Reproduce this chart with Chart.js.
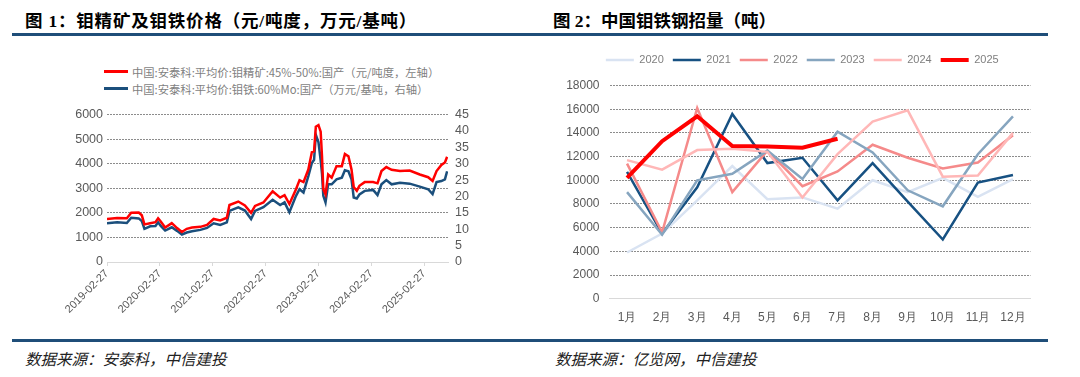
<!DOCTYPE html>
<html lang="zh">
<head>
<meta charset="UTF-8">
<title>钼精矿及钼铁价格 / 中国钼铁钢招量</title>
<script src="https://cdn.jsdelivr.net/npm/chart.js"></script>
<style>
    * { margin: 0; padding: 0; box-sizing: border-box; }
    body { width: 1080px; height: 377px; background: #fff; position: relative; overflow: hidden;
           font-family: "Liberation Sans", "Noto Sans CJK SC", sans-serif; }
    .title { position: absolute; top: 7px; font-size: 17.5px; font-weight: 700; color: #000;
             font-family: "Liberation Serif", "Noto Sans CJK SC", serif; white-space: nowrap; }
    .rule { position: absolute; left: 12px; width: 1036px; height: 3px; background: #1f4e79; }
    .source { position: absolute; top: 347px; font-size: 15.5px; font-style: italic; color: #222;
              font-family: "Noto Sans CJK SC", sans-serif; white-space: nowrap; }
    .legend1 { position: absolute; left: 104px; top: 63px; font-size: 11.3px; color: #7f7f7f;
               font-family: "Noto Sans CJK SC", sans-serif; }
    .legend1 div { display: flex; align-items: center; height: 17px; white-space: nowrap; }
    .legend1 span.sw { display: inline-block; width: 24px; height: 3px; margin-right: 4px; }
    .box { position: absolute; }
</style>
</head>
<body>
    <div class="title" style="left:25px; letter-spacing:0.8px">图 1：钼精矿及钼铁价格（元/吨度，万元/基吨）</div>
    <div class="title" style="left:553px">图 2：中国钼铁钢招量（吨）</div>
    <div class="rule" style="top:33px"></div>

    <div class="legend1">
        <div><span class="sw" style="background:#ff0000"></span>中国:安泰科:平均价:钼精矿:45%-50%:国产（元/吨度，左轴）</div>
        <div><span class="sw" style="background:#1b4f7c"></span>中国:安泰科:平均价:钼铁:60%Mo:国产（万元/基吨，右轴）</div>
    </div>

    <div class="box" style="left:12px; top:100px; width:528px; height:235px;">
        <canvas id="priceChart"></canvas>
    </div>
    <div class="box" style="left:540px; top:40px; width:508px; height:295px;">
        <canvas id="tenderChart"></canvas>
    </div>

    <div class="rule" style="top:339px"></div>
    <div class="source" style="left:25px">数据来源：安泰科，中信建投</div>
    <div class="source" style="left:555px">数据来源：亿览网，中信建投</div>

<script>
// ---- 图1 数据（x = 自 2019-02-27 起的月数）----
const priceMonths = [0, 2.3, 4.5, 5.5, 7.2, 7.9, 8.5, 9.8, 11.0, 11.6, 12.2, 13.2, 14.7, 15.9, 17.0, 18.1, 19.3, 21.2, 22.7, 24.2,
    25.7, 27.2, 27.8, 29.8, 31.3, 32.7, 33.6, 35.5, 37.6, 39.3, 40.3, 41.4, 42.9, 43.7, 44.6, 45.7, 46.5, 47.0, 47.4, 48.0,
    48.5, 48.8, 49.1, 49.6, 50.2, 51.0, 52.1, 53.3, 54.0, 54.8, 55.5, 56.0, 56.7, 57.3, 58.5, 60.4, 61.4, 62.3, 63.4, 64.6,
    66.5, 68.7, 71.0, 72.9, 73.9, 74.8, 75.9, 76.7, 77.2];
const orePrice = [1750, 1790, 1780, 2000, 2010, 1900, 1530, 1580, 1620, 1780, 1650, 1400, 1580, 1380, 1220, 1350, 1400, 1430, 1510, 1750,
    1690, 1800, 2320, 2460, 2300, 2000, 2280, 2420, 2880, 2620, 2720, 2360, 2960, 3330, 3250, 3760, 4470, 4500, 5500, 5570,
    5300, 4300, 2960, 2750, 3560, 3430, 3900, 3900, 4390, 4300, 3760, 3050, 2900, 3100, 3250, 3250, 3200, 3700, 3860, 3750,
    3700, 3720, 3560, 3450, 3300, 3700, 3950, 4050, 4280];
const feAlloyPrice = [11.8, 12.1, 11.9, 13.5, 13.3, 12.5, 10.1, 10.9, 11.0, 12.1, 11.0, 9.6, 10.6, 9.5, 8.4, 9.0, 9.4, 9.8, 10.4, 11.8,
    11.3, 12.1, 15.6, 16.7, 15.7, 13.1, 15.6, 16.7, 19.0, 17.4, 18.2, 15.2, 20.2, 22.2, 21.2, 26.2, 30.2, 31.2, 38.8, 36.5,
    31.0, 27.0, 20.2, 18.2, 23.7, 23.7, 25.2, 25.7, 28.0, 27.7, 25.2, 19.7, 19.4, 20.6, 21.7, 22.0, 20.4, 23.7, 25.0, 23.7,
    24.2, 23.9, 23.0, 22.2, 20.7, 24.4, 24.7, 25.2, 27.7];
const dateTicks = ['2019-02-27', '2020-02-27', '2021-02-27', '2022-02-27', '2023-02-27', '2024-02-27', '2025-02-27'];

// ---- 图2 数据（吨）----
const months = ['1月', '2月', '3月', '4月', '5月', '6月', '7月', '8月', '9月', '10月', '11月', '12月'];
const years = ['2020', '2021', '2022', '2023', '2024', '2025'];
const t2020 = [3900, 5500, 8300, 11200, 8400, 8550, 7600, 10000, 9000, 10200, 8600, 10100];
const t2021 = [10700, 5500, 9400, 15600, 11450, 11900, 8300, 11450, 8200, 5000, 9800, 10450];
const t2022 = [11400, 5600, 16100, 9000, 12500, 9500, 10750, 13000, 11900, 11000, 11500, 13800];
const t2023 = [9000, 5400, 10000, 10550, 12500, 10100, 14100, 12350, 9150, 7800, 12200, 15400];
const t2024 = [11700, 10900, 12550, 12650, 12400, 8550, 12200, 14950, 15900, 10300, 10400, 14000];
const t2025 = [10200, 13300, 15400, 12900, 12850, 12750, 13500];

const seriesColors = ['#d9e3f2', '#175182', '#f58a8a', '#86a5bf', '#ffb7b7', '#ff0000'];

const tickColor = '#595959';
const gridColor = ctx => ctx.tick && ctx.tick.value === 0 ? 'rgba(0,0,0,0)' : '#8c8c8c';
const plain = v => String(v);

// 图1
new Chart(document.getElementById('priceChart'), {
    type: 'line',
    data: {
        datasets: [{
            label: '钼精矿',
            data: priceMonths.map((m, i) => ({ x: m, y: orePrice[i] })),
            borderColor: '#ff0000',
            borderWidth: 2.5,
            pointRadius: 0,
            yAxisID: 'yL'
        }, {
            label: '钼铁',
            data: priceMonths.map((m, i) => ({ x: m, y: feAlloyPrice[i] })),
            borderColor: '#1b4f7c',
            borderWidth: 2.5,
            pointRadius: 0,
            yAxisID: 'yR'
        }]
    },
    options: {
        responsive: true,
        maintainAspectRatio: false,
        animation: false,
        layout: { padding: { top: 13, left: 0, right: 0, bottom: 0 } },
        plugins: { legend: { display: false }, tooltip: { enabled: false } },
        scales: {
            x: {
                type: 'linear',
                min: 0,
                max: 77.4,
                afterBuildTicks: s => { s.ticks = dateTicks.map((_, i) => ({ value: i * 12 })); },
                afterFit: s => { s.height = 73; },
                ticks: {
                    callback: (v, i) => dateTicks[i],
                    autoSkip: false,
                    minRotation: 45, maxRotation: 45,
                    color: tickColor,
                    font: { family: 'Liberation Sans', size: 11 },
                    padding: 1
                },
                grid: { drawOnChartArea: false, drawTicks: true, tickLength: 4, color: '#d9d9d9' },
                border: { color: '#d9d9d9' }
            },
            yL: {
                position: 'left',
                min: 0, max: 6000,
                afterFit: s => { s.width = 95; },
                ticks: { stepSize: 1000, autoSkip: false, callback: plain, color: tickColor, padding: 4,
                         font: { family: 'Liberation Sans', size: 12.5 } },
                grid: { color: gridColor, drawTicks: false },
                border: { display: false, dash: [2, 1] }
            },
            yR: {
                position: 'right',
                min: 0, max: 45,
                afterFit: s => { s.width = 92; },
                ticks: { stepSize: 5, autoSkip: false, callback: plain, color: tickColor, padding: 7,
                         font: { family: 'Liberation Sans', size: 12.5 } },
                grid: { drawOnChartArea: false, drawTicks: false },
                border: { display: false }
            }
        }
    }
});

// 图2
const tenderSeries = [t2020, t2021, t2022, t2023, t2024, t2025];
new Chart(document.getElementById('tenderChart'), {
    type: 'line',
    data: {
        labels: months,
        datasets: tenderSeries.map((s, i) => ({
            label: years[i],
            data: s,
            borderColor: seriesColors[i],
            backgroundColor: seriesColors[i],
            borderWidth: i === 5 ? 4 : 2.5,
            pointRadius: 0,
            tension: 0,
            order: i === 5 ? 0 : 6 - i
        }))
    },
    options: {
        responsive: true,
        maintainAspectRatio: false,
        animation: false,
        layout: { padding: { top: 5.5, left: 0, right: 17.5, bottom: 0 } },
        plugins: {
            tooltip: { enabled: false },
            legend: {
                position: 'top',
                labels: {
                    usePointStyle: true,
                    pointStyle: 'line',
                    pointStyleWidth: 28,
                    padding: 9,
                    color: '#7f7f7f',
                    font: { family: 'Liberation Sans', size: 11 },
                    sort: (a, b) => a.datasetIndex - b.datasetIndex
                }
            }
        },
        scales: {
            x: {
                offset: true,
                afterFit: s => { s.height = 36.3; },
                ticks: { color: tickColor, padding: 4, font: { family: 'Liberation Sans', size: 12 } },
                grid: { display: false },
                border: { color: '#d9d9d9' }
            },
            y: {
                min: 0, max: 18000,
                afterFit: s => { s.width = 69.5; },
                ticks: { stepSize: 2000, autoSkip: false, callback: plain, color: tickColor, padding: 10,
                         font: { family: 'Liberation Sans', size: 12 } },
                grid: { color: gridColor, drawTicks: false },
                border: { display: false, dash: [2, 1] }
            }
        }
    },
    plugins: [{
        id: 'legendGap',
        beforeInit(chart) {
            const fit = chart.legend.fit;
            chart.legend.fit = function () { fit.bind(chart.legend)(); this.height += 10; };
        },
        afterLayout(chart) {
            // legend centred over the plot rather than the whole canvas
            chart.legend.left += 17;
            chart.legend.right += 17;
        }
    }]
});
</script>
</body>
</html>
